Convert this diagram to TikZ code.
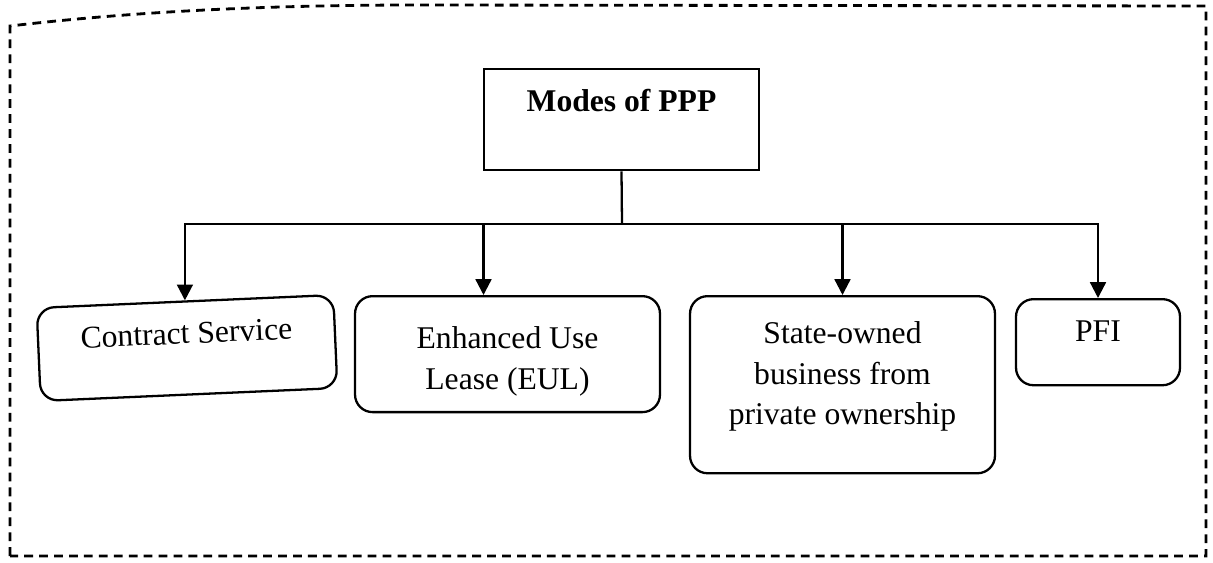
\documentclass[tikz,border=0pt]{standalone}
\usepackage{fontspec}
\setmainfont{Liberation Serif}
\usepackage{tikz}
\usetikzlibrary{shapes.geometric, arrows.meta, positioning, calc}
\tikzstyle{title} = [rectangle, minimum width=5.5cm, inner ysep=0pt, text height=24pt, text depth=33.5pt, draw=black, line width=1.3pt, font=\fontsize{18pt}{23pt}\selectfont\bfseries]
\tikzstyle{mode} = [rectangle, rounded corners=.35cm, inner ysep=0pt, align=center, draw=black, line width=1.3pt, font=\fontsize{18pt}{23pt}\selectfont]
\tikzstyle{arrow} = [line width=1.3pt, -{Triangle[width=9pt,length=9pt]}]
\tikzstyle{frame} = [line width=1.6pt, dash pattern=on 5pt off 3.5pt]

\begin{document}
\begin{tikzpicture}[x=0.02cm, y=-0.02cm]
            \useasboundingbox (0,0) rectangle (1213,562);
            \node (modes) [title, anchor=north] at (621.5,68) {Modes of PPP};
            \node (contract) [mode, rotate=2.5, minimum width=5.94cm, text height=24pt, text depth=29pt] at (187,348) {Contract Service};
            \node (eul) [mode, anchor=north, minimum width=6.1cm, text height=53pt, text depth=13pt] at (507.5,295) {Enhanced Use\\Lease (EUL)};
            \node (state) [mode, anchor=north, minimum width=6.1cm, text height=73pt, text depth=27.8pt] at (842.5,295) {State-owned\\business from\\private ownership};
            \node (pfi) [mode, anchor=north, minimum width=3.28cm, text height=24pt, text depth=25pt] at (1098,298) {PFI};
            \coordinate (split) at (622,224);

            \draw [line width=1.3pt] (modes.south) -- (split);
            \draw [arrow] (split) -| (contract.north);
            \draw [arrow] (split) -| ($(eul.north)+(-24,0)$);
            \draw [arrow] (split) -| (state.north);
            \draw [arrow] (split) -| (pfi.north);

            \draw [frame] (10,556) -- (10,26) .. controls (130,12) and (260,5) .. (420,5) -- (1206,6) -- (1206,556) -- cycle;
        \end{tikzpicture}
\end{document}
